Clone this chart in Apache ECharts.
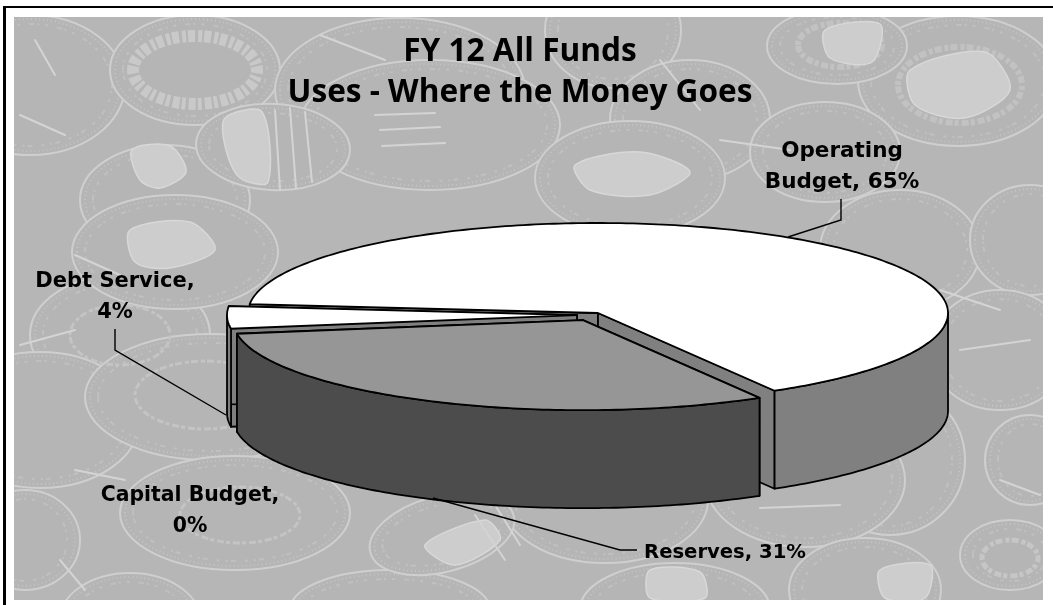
<!DOCTYPE html>
<html><head><meta charset="utf-8">
<style>html,body{margin:0;padding:0;background:#fff}#c{width:1053px;height:605px}</style>
<script src="https://cdn.jsdelivr.net/npm/echarts@6/dist/echarts.min.js"></script>
</head><body><div id="c"></div>
<script>
// ---- data ----
const categories = ['Operating Budget', 'Reserves', 'Capital Budget', 'Debt Service'];
const shares = [65, 31, 0, 4];
const titleLines = ['FY 12 All Funds', 'Uses - Where the Money Goes'];

// ---- pie styling ----
const PIE = {cx: 598, cy: 313, rx: 350, ry: 90, depth: 98, startDeg: 185.7};
const explode = [0, 0.1, 0, 0.06];
const nudgeY = [0, -1, 0, 2];
const topColor = ['#ffffff', '#969696', '#c0c0c0', '#ffffff'];
const sideColor = ['#808080', '#4c4c4c', '#808080', '#808080'];
const paintOrder = [1, 4, 2, 3];
const labelAt = [[842, 167], [725, 553], [190, 511], [115, 297]];
const labelSize = [21.5, 19.6, 20.4, 21];
const leaders = [
  [[841, 199], [841, 220], [788, 237]],
  [[637, 550], [620, 550], [433, 498]],
  [],
  [[115, 329], [115, 350], [226, 415]]
];

// ---- backdrop coins: cx, cy, rx, ry, tilt ----
const coins = [
  [30, 85, 95, 70, 0], [195, 70, 85, 55, 0], [400, 90, 125, 72, 0], [430, 125, 130, 65, 0],
  [165, 200, 85, 55, 0], [273, 147, 77, 43, -0.05], [613, 30, 68, 58, 0], [690, 120, 80, 60, 0],
  [958, 81, 100, 65, 0], [837, 46, 70, 38, 0], [825, 152, 75, 50, 0], [630, 178, 95, 57, 0],
  [900, 250, 80, 60, 0], [1030, 240, 60, 55, 0], [120, 335, 90, 60, 0], [40, 420, 100, 68, 0],
  [175, 252, 103, 57, 0], [210, 397, 125, 63, 0], [235, 513, 115, 57, 0], [25, 540, 55, 50, 0],
  [130, 620, 70, 47, 0], [1000, 350, 70, 60, 0], [890, 460, 75, 75, 0], [1030, 460, 45, 45, 0],
  [605, 500, 103, 63, 0], [805, 480, 100, 67, 0], [390, 610, 100, 40, 0], [442, 534, 74, 38, 0.25],
  [675, 610, 95, 47, 0], [865, 590, 76, 52, 0], [1010, 555, 50, 35, 0]
];
// raised relief on the coins: outlined shapes in lighter gray
const coinReliefs = [
  [[225, 118], [262, 112], [268, 182], [240, 178], [226, 150]],
  [[132, 150], [170, 146], [186, 172], [160, 188], [140, 180]],
  [[130, 230], [190, 222], [215, 250], [170, 268], [135, 262]],
  [[575, 165], [640, 152], [690, 172], [650, 195], [590, 190]],
  [[910, 70], [985, 52], [1010, 90], [965, 118], [915, 105]],
  [[825, 30], [880, 24], [872, 62], [830, 58]],
  [[425, 545], [485, 520], [500, 540], [455, 565]],
  [[650, 570], [700, 572], [705, 598], [650, 598]],
  [[880, 570], [930, 565], [925, 598], [885, 598]]
];
const coinRings = [
  [195, 70, 62, 34, 12, '#c9c9c9'], [960, 85, 62, 38, 6, '#c2c2c2'],
  [840, 45, 42, 22, 6, '#c2c2c2'], [1010, 558, 28, 18, 5, '#c6c6c6'],
  [205, 395, 70, 34, 3, '#c4c4c4'], [240, 515, 60, 28, 3, '#c4c4c4'],
  [120, 335, 50, 30, 3, '#c4c4c4']
];
const coinStrokes = [
  [[375, 115], [435, 113]], [[380, 130], [440, 127]], [[382, 146], [445, 143]],
  [[20, 115], [65, 135]], [[35, 40], [55, 75]], [[75, 255], [120, 275]],
  [[75, 470], [125, 480]], [[760, 508], [840, 505]], [[720, 140], [790, 150]],
  [[940, 290], [1000, 310]], [[960, 350], [1030, 340]], [[320, 35], [385, 60]],
  [[20, 345], [75, 330]], [[60, 560], [85, 590]], [[660, 60], [700, 110]],
  [[1000, 480], [1040, 495]], [[275, 110], [280, 190]], [[290, 108], [296, 188]],
  [[305, 112], [312, 182]], [[475, 515], [505, 560]], [[495, 505], [520, 545]]
];

// ---- helpers ----
function pt(c, deg, drop) {
  const t = deg * Math.PI / 180;
  return [c[0] + PIE.rx * Math.cos(t), c[1] + PIE.ry * Math.sin(t) + (drop || 0)];
}
function arcPts(c, a, b, drop) {
  const out = [];
  const n = Math.max(2, Math.ceil(Math.abs(b - a)));
  for (let i = 0; i <= n; i++) out.push(pt(c, a + (b - a) * i / n, drop));
  return out;
}
const stroke = {stroke: '#000', lineWidth: 1.8, lineJoin: 'round'};
const total = shares.reduce((a, b) => a + b, 0);

function renderSlice(params, api) {
  const i = params.dataIndex;
  const value = api.value(0);
  let before = 0;
  for (let k = 0; k < i; k++) before += shares[k];
  const a = PIE.startDeg + before / total * 360;
  const b = a + value / total * 360;
  const z = paintOrder[i] * 10;
  const mid = (a + b) / 2 * Math.PI / 180;
  const c = [
    PIE.cx + explode[i] * PIE.rx * Math.cos(mid),
    PIE.cy + explode[i] * PIE.ry * Math.sin(mid) + nudgeY[i]
  ];
  const kids = [];
  const poly = (points, fill, zz) => kids.push({type: 'polygon', z2: z + zz,
    shape: {points}, style: Object.assign({fill}, stroke)});
  if (value > 0) {
    [a, b].forEach(e => {
      const p = pt(c, e);
      poly([c, p, [p[0], p[1] + PIE.depth], [c[0], c[1] + PIE.depth]], sideColor[i], 0);
    });
    [[0, 180], [360, 540]].forEach(r => {
      const s = Math.max(a, r[0]), e = Math.min(b, r[1]);
      if (e > s) poly(arcPts(c, s, e, 0).concat(arcPts(c, e, s, PIE.depth)), sideColor[i], 1);
    });
    poly([c].concat(arcPts(c, a, b, 0)), topColor[i], 2);
  }
  if (leaders[i].length) {
    kids.push({type: 'polyline', z2: 60, shape: {points: leaders[i]},
      style: {fill: 'none', stroke: '#000', lineWidth: 1.4}});
  }
  const text = categories[i] + ', ' + value + '%';
  const wrapped = i === 0 ? text.replace(' ', '\n') : (i === 1 ? text : text.replace(', ', ',\n'));
  kids.push({type: 'text', z2: 70, x: labelAt[i][0], y: labelAt[i][1],
    style: {text: wrapped, fill: '#000', align: 'center', verticalAlign: 'middle',
      font: 'bold ' + labelSize[i] + 'px "DejaVu Sans"', lineHeight: 31}});
  return {type: 'group', children: kids};
}

// ---- backdrop ----
const backdrop = [];
const Z = {z: 0, silent: true};
backdrop.push(Object.assign({type: 'rect', shape: {x: 14, y: 17, width: 1029, height: 583},
  style: {fill: '#b6b6b6'}}, Z));
coins.forEach(k => {
  const base = {x: k[0], y: k[1], rotation: k[4]};
  backdrop.push(Object.assign({type: 'ellipse', shape: {cx: 0, cy: 0, rx: k[2], ry: k[3]},
    style: {fill: '#b5b5b5', stroke: '#cfcfcf', lineWidth: 2}}, base, Z));
  backdrop.push(Object.assign({type: 'ellipse', shape: {cx: 0, cy: 0, rx: k[2] - 5, ry: k[3] - 4},
    style: {fill: 'none', stroke: '#c4c4c4', lineWidth: 2, lineDash: [1, 3]}}, base, Z));
  backdrop.push(Object.assign({type: 'ellipse', shape: {cx: 0, cy: 0, rx: k[2] - 13, ry: k[3] - 9},
    style: {fill: 'none', stroke: '#c0c0c0', lineWidth: 2, lineDash: [5, 3, 2, 6, 3, 9]}}, base, Z));
});
coinRings.forEach(r => backdrop.push(Object.assign({type: 'ellipse',
  shape: {cx: r[0], cy: r[1], rx: r[2], ry: r[3]},
  style: {fill: 'none', stroke: r[5], lineWidth: r[4], lineDash: [4, 2, 7, 3]}}, Z)));
coinReliefs.forEach(p => backdrop.push(Object.assign({type: 'polygon',
  shape: {points: p, smooth: 0.3}, style: {fill: '#cdcdcd', stroke: '#d8d8d8', lineWidth: 1.5}}, Z)));
coinStrokes.forEach(s => backdrop.push(Object.assign({type: 'line',
  shape: {x1: s[0][0], y1: s[0][1], x2: s[1][0], y2: s[1][1]},
  style: {stroke: '#d4d4d4', lineWidth: 2, lineCap: 'round'}}, Z)));
[[0, 0, 1053, 17], [0, 600, 1053, 5], [0, 0, 14, 605], [1043, 0, 10, 605]].forEach(r =>
  backdrop.push(Object.assign({type: 'rect', shape: {x: r[0], y: r[1], width: r[2], height: r[3]},
    style: {fill: '#fff'}}, Z)));
[[3, 6, 1050, 2], [3, 6, 3, 599]].forEach(r =>
  backdrop.push(Object.assign({type: 'rect', shape: {x: r[0], y: r[1], width: r[2], height: r[3]},
    style: {fill: '#000'}}, Z)));

const chart = echarts.init(document.getElementById('c'), null, {renderer: 'canvas'});
chart.setOption({
  animation: false,
  backgroundColor: '#fff',
  title: {
    text: titleLines.join('\n'), left: 520, top: 31, padding: 0, textAlign: 'center',
    textStyle: {fontFamily: 'Open Sans', fontWeight: 'bold', fontSize: 31.6, lineHeight: 41, color: '#000'}
  },
  graphic: {elements: backdrop},
  series: [{
    type: 'custom', coordinateSystem: 'none', clip: false, silent: true,
    data: shares.map((v, i) => ({name: categories[i], value: [v]})),
    renderItem: renderSlice
  }]
});
</script></body></html>
